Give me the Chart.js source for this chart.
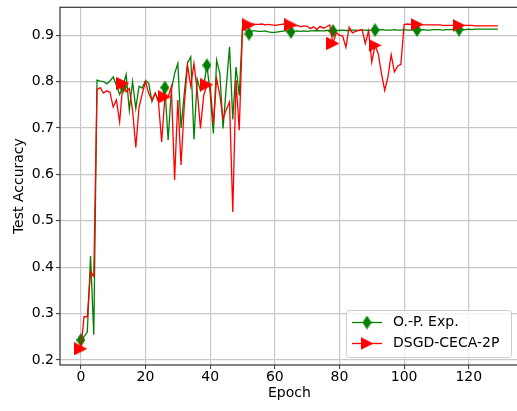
<!DOCTYPE html>
<html>
<head>
<meta charset="utf-8">
<script src="https://cdn.jsdelivr.net/npm/chart.js@4/dist/chart.umd.min.js"></script>
<style>
html,body{margin:0;padding:0;background:#fff;overflow:hidden;width:517px;height:411px;}
#wrap{position:absolute;left:0;top:0;width:526px;height:411px;}
</style>
</head>
<body>
<div id="wrap"><canvas id="c" width="526" height="411"></canvas></div>
<script>
const seriesNames = ['O.-P. Exp.', 'DSGD-CECA-2P'];
const xTicks = [0, 20, 40, 60, 80, 100, 120];
const yTicks = [0.2, 0.3, 0.4, 0.5, 0.6, 0.7, 0.8, 0.9];
const xTitle = 'Epoch';
const yTitle = 'Test Accuracy';
const markEvery = 13;

const opExp = [
0.243,0.250,0.260,0.424,0.254,0.803,0.801,0.800,0.795,0.801,
0.810,0.792,0.772,0.789,0.815,0.738,0.800,0.742,0.790,0.786,
0.802,0.796,0.757,0.775,0.760,0.760,0.787,0.674,0.782,0.817,
0.839,0.700,0.775,0.840,0.853,0.675,0.805,0.780,0.790,0.835,
0.775,0.688,0.846,0.817,0.699,0.790,0.875,0.718,0.831,0.770,
0.916,0.910,0.903,0.909,0.909,0.908,0.908,0.909,0.907,0.906,
0.906,0.907,0.908,0.909,0.909,0.907,0.908,0.909,0.908,0.909,
0.908,0.909,0.909,0.910,0.909,0.909,0.910,0.910,0.909,0.910,
0.910,0.911,0.910,0.910,0.911,0.911,0.910,0.911,0.911,0.910,
0.911,0.911,0.911,0.912,0.911,0.911,0.911,0.912,0.911,0.911,
0.912,0.911,0.911,0.911,0.911,0.911,0.912,0.911,0.911,0.912,
0.912,0.912,0.911,0.912,0.912,0.912,0.912,0.912,0.912,0.912,
0.913,0.912,0.913,0.913,0.913,0.913,0.913,0.913,0.913,0.913
];

const dsgdCeca = [
0.224,0.293,0.293,0.390,0.380,0.783,0.787,0.775,0.780,0.777,
0.745,0.760,0.713,0.796,0.778,0.785,0.738,0.658,0.745,0.774,
0.800,0.774,0.760,0.775,0.756,0.670,0.767,0.767,0.789,0.588,
0.760,0.620,0.750,0.835,0.790,0.839,0.780,0.699,0.770,0.793,
0.790,0.709,0.806,0.770,0.720,0.740,0.756,0.519,0.803,0.695,
0.915,0.923,0.922,0.924,0.923,0.923,0.924,0.922,0.923,0.922,
0.921,0.922,0.923,0.924,0.925,0.922,0.920,0.921,0.918,0.920,
0.919,0.914,0.918,0.912,0.919,0.915,0.918,0.922,0.882,0.905,
0.900,0.898,0.874,0.917,0.905,0.908,0.910,0.912,0.882,0.909,
0.842,0.878,0.860,0.817,0.781,0.810,0.858,0.821,0.833,0.837,
0.923,0.924,0.923,0.922,0.923,0.923,0.922,0.922,0.922,0.922,
0.922,0.922,0.921,0.921,0.921,0.921,0.921,0.921,0.921,0.921,
0.921,0.921,0.920,0.920,0.920,0.920,0.920,0.920,0.920,0.920
];

const epochs = opExp.map((_, i) => i);

const GREEN = '#008000';
const RED = '#ff0000';
const FONT = "'DejaVu Sans', sans-serif";

function makeDiamond(color) {
  const w = 9, h = 14;
  const c = document.createElement('canvas');
  c.width = w; c.height = h;
  const g = c.getContext('2d');
  g.fillStyle = color;
  g.beginPath();
  g.moveTo(w/2, 0); g.lineTo(w, h/2); g.lineTo(w/2, h); g.lineTo(0, h/2);
  g.closePath(); g.fill();
  return c;
}
function makeTriRight(color) {
  const w = 13, h = 13;
  const c = document.createElement('canvas');
  c.width = w; c.height = h;
  const g = c.getContext('2d');
  g.fillStyle = color;
  g.beginPath();
  g.moveTo(0, 0); g.lineTo(w, h/2); g.lineTo(0, h);
  g.closePath(); g.fill();
  return c;
}
const diamondImg = makeDiamond(GREEN);
const triImg = makeTriRight(RED);

const toPts = arr => arr.map((v, i) => ({x: epochs[i], y: v}));
const markR = ctx => (ctx.dataIndex % markEvery === 0 ? 6 : 0);

const framePlugin = {
  id: 'frame',
  afterDatasetsDraw(chart) {
    const {ctx, chartArea: a} = chart;
    ctx.save();
    ctx.strokeStyle = '#333';
    ctx.lineWidth = 1.2;
    ctx.strokeRect(a.left, a.top, a.right - a.left, a.bottom - a.top);
    ctx.restore();
  }
};

const legendPlugin = {
  id: 'mplLegend',
  afterDraw(chart) {
    const ctx = chart.ctx;
    ctx.save();
    const x0 = 346.5, y0 = 310.5, x1 = 511.5, y1 = 357.5, r = 3;
    ctx.beginPath();
    ctx.moveTo(x0 + r, y0);
    ctx.lineTo(x1 - r, y0); ctx.quadraticCurveTo(x1, y0, x1, y0 + r);
    ctx.lineTo(x1, y1 - r); ctx.quadraticCurveTo(x1, y1, x1 - r, y1);
    ctx.lineTo(x0 + r, y1); ctx.quadraticCurveTo(x0, y1, x0, y1 - r);
    ctx.lineTo(x0, y0 + r); ctx.quadraticCurveTo(x0, y0, x0 + r, y0);
    ctx.closePath();
    ctx.fillStyle = 'rgba(255,255,255,0.8)';
    ctx.fill();
    ctx.strokeStyle = '#cccccc';
    ctx.lineWidth = 1;
    ctx.stroke();

    const entries = [
      {name: seriesNames[0], color: GREEN, img: diamondImg, y: 322.5},
      {name: seriesNames[1], color: RED, img: triImg, y: 343.5}
    ];
    entries.forEach(e => {
      ctx.strokeStyle = e.color;
      ctx.lineWidth = 1.3;
      ctx.beginPath();
      ctx.moveTo(352, e.y); ctx.lineTo(382, e.y);
      ctx.stroke();
      ctx.drawImage(e.img, 367 - e.img.width/2, e.y - e.img.height/2);
      ctx.fillStyle = '#000';
      ctx.font = '14px ' + FONT;
      ctx.textBaseline = 'middle';
      ctx.textAlign = 'left';
      ctx.fillText(e.name, 393, e.y);
    });
    ctx.restore();
  }
};

new Chart(document.getElementById('c'), {
  type: 'line',
  data: {
    datasets: [
      {
        label: seriesNames[0],
        data: toPts(opExp),
        borderColor: GREEN,
        backgroundColor: GREEN,
        borderWidth: 1.3,
        tension: 0,
        fill: false,
        pointRadius: markR,
        pointHoverRadius: markR,
        pointStyle: diamondImg,
        order: 2
      },
      {
        label: seriesNames[1],
        data: toPts(dsgdCeca),
        borderColor: RED,
        backgroundColor: RED,
        borderWidth: 1.3,
        tension: 0,
        fill: false,
        pointRadius: markR,
        pointHoverRadius: markR,
        pointStyle: triImg,
        order: 1
      }
    ]
  },
  options: {
    responsive: false,
    animation: false,
    devicePixelRatio: 1,
    layout: {padding: {left: 0, top: 6.7, right: 2.7, bottom: 0}},
    plugins: {legend: {display: false}, tooltip: {enabled: false}},
    scales: {
      x: {
        type: 'linear',
        min: -6.45,
        max: 135.45,
        afterBuildTicks: s => { s.ticks = xTicks.map(v => ({value: v})); },
        afterFit: s => { s.height = 46; s.paddingLeft = 0; s.paddingRight = 0; },
        border: {display: false},
        grid: {color: '#c8c8c8', lineWidth: 1.2, tickColor: '#333', tickLength: 4, tickWidth: 1},
        ticks: {color: '#000', font: {family: FONT, size: 14}, padding: 0, maxRotation: 0,
                callback: v => String(v)},
        title: {display: true, text: xTitle, color: '#000', font: {family: FONT, size: 14},
                padding: {top: 0, bottom: 9}}
      },
      y: {
        type: 'linear',
        min: 0.189,
        max: 0.960,
        afterBuildTicks: s => { s.ticks = yTicks.map(v => ({value: v})); },
        afterFit: s => { s.width = 60; s.paddingTop = 0; s.paddingBottom = 0; },
        border: {display: false},
        grid: {color: '#c8c8c8', lineWidth: 1.2, tickColor: '#333', tickLength: 4, tickWidth: 1},
        ticks: {color: '#000', font: {family: FONT, size: 14}, padding: 2,
                callback: v => Number(v).toFixed(1)},
        title: {display: true, text: yTitle, color: '#000', font: {family: FONT, size: 14},
                padding: {top: 11, bottom: 0}}
      }
    }
  },
  plugins: [framePlugin, legendPlugin]
});
</script>
</body>
</html>
